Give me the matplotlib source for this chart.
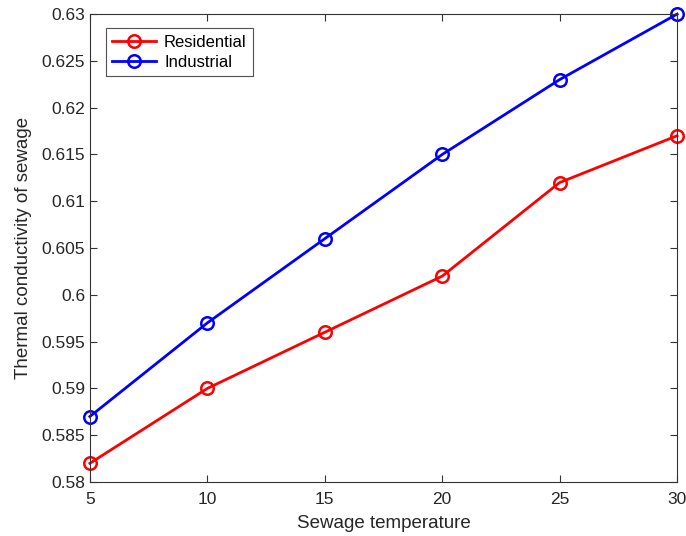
import matplotlib
matplotlib.use('Agg')
import matplotlib.pyplot as plt

plt.rcParams['font.family'] = ['Liberation Sans', 'DejaVu Sans']

temperature = [5, 10, 15, 20, 25, 30]
residential = [0.582, 0.590, 0.596, 0.602, 0.612, 0.617]
industrial = [0.587, 0.597, 0.606, 0.615, 0.623, 0.630]

fig = plt.figure(figsize=(6.86, 5.36), dpi=100)
ax = fig.add_axes([0.131, 0.1007, 0.856, 0.873])

ax.plot(temperature, residential, '-o', color='#ff0000', lw=2, ms=9,
        mfc='none', mew=1.8, label='Residential', clip_on=False)
ax.plot(temperature, industrial, '-o', color='#0000ff', lw=2, ms=9,
        mfc='none', mew=1.8, label='Industrial', clip_on=False)

ax.set_xlim(5, 30)
ax.set_ylim(0.58, 0.63)
ax.set_xticks([5, 10, 15, 20, 25, 30])
ax.set_yticks([0.58 + 0.005 * i for i in range(11)])
ax.set_yticklabels(['0.58', '0.585', '0.59', '0.595', '0.6', '0.605',
                    '0.61', '0.615', '0.62', '0.625', '0.63'])

for s in ax.spines.values():
    s.set_color('#333333')
    s.set_linewidth(0.8)
ax.tick_params(direction='in', top=True, right=True, length=5,
               width=0.8, color='#333333', labelsize=12.5, labelcolor='#262626')
ax.tick_params(axis='x', pad=7)

ax.set_xlabel('Sewage temperature', fontsize=13.5, color='#262626', labelpad=6)
ax.set_ylabel('Thermal conductivity of sewage', fontsize=13.5, color='#262626', labelpad=7)

leg = ax.legend(loc='upper left', bbox_to_anchor=(0.027, 0.970), borderaxespad=0,
                fontsize=12, fancybox=False, edgecolor='#262626', handlelength=2.6,
                borderpad=0.4, labelspacing=0.3, handletextpad=0.5)
leg.get_frame().set_linewidth(0.8)

fig.savefig('out.png', dpi=100)
